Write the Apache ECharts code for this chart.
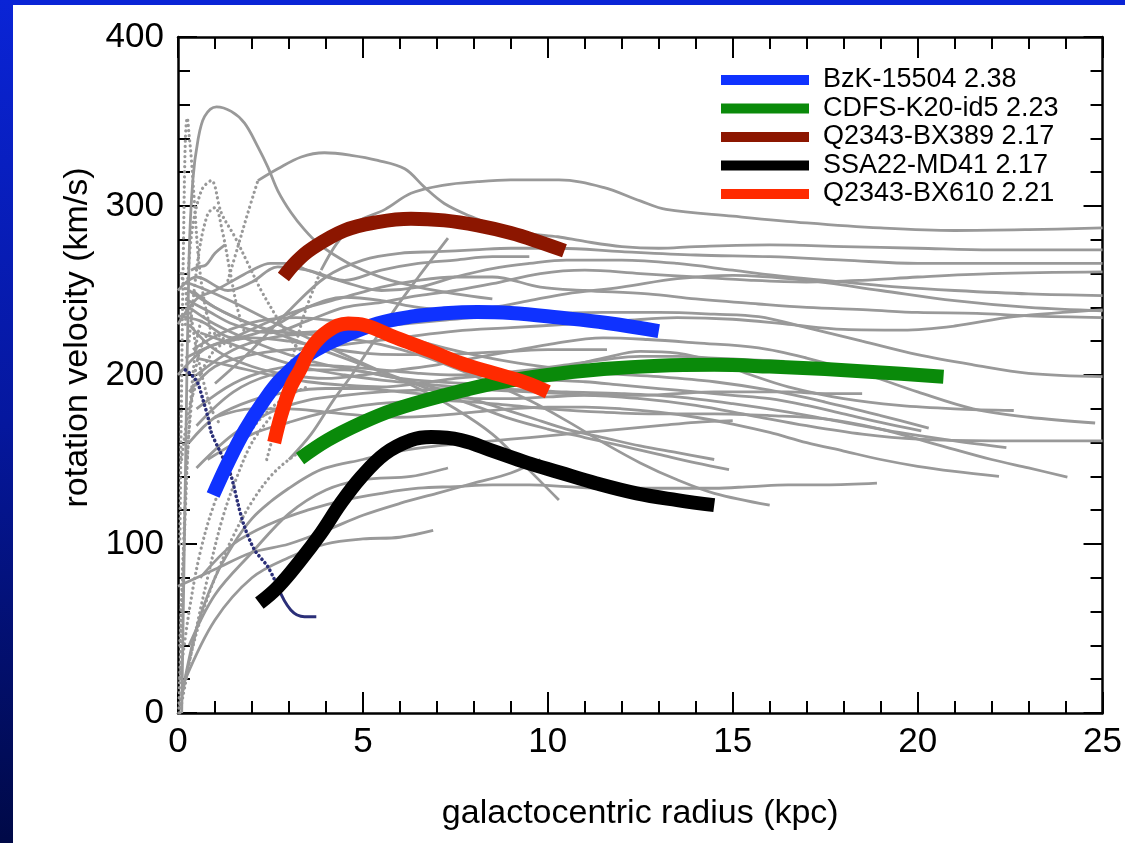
<!DOCTYPE html>
<html>
<head>
<meta charset="utf-8">
<title>Rotation curves</title>
<script src="https://cdn.jsdelivr.net/npm/echarts@6/dist/echarts.min.js"></script>
<style>
  html, body { margin: 0; padding: 0; background: #ffffff; }
  #chart { width: 1125px; height: 843px; }
</style>
</head>
<body>
<div id="chart"></div>
<script>
// Axis ranges and ticks
const xRange = [0, 25];
const xStep = 5;
const yRange = [0, 400];
const yStep = 100;

// High-redshift galaxies (radius kpc, velocity km/s)
const bzk15504 = [[0.95,129],[1.35,148],[1.8,167],[2.3,184],[2.8,198],[3.6,213],[4.5,223],[5.4,230.5],[6.3,234.5],[7.2,236.5],[8.1,237.3],[9,236.7],[10.3,234],[11.6,230.8],[13.0,226]];
const cdfsK20id5 = [[3.3,150.5],[4.05,161.5],[4.95,171.5],[5.85,179.5],[7.2,188],[8.55,195],[10,200],[11.5,203.5],[13,205.5],[14.5,206],[16,205],[17.5,203.5],[19,201.5],[20.7,199]];
const q2343bx389 = [[2.85,258],[3.2,267],[3.6,274.5],[4.5,285.5],[5.4,290.5],[6.3,292.5],[7.2,291.5],[8.1,288.5],[9.0,284],[9.8,278.5],[10.45,273.5]];
const ssa22md41 = [[2.2,65],[2.7,74.5],[3.3,90],[3.87,106.5],[4.4,124],[4.95,139.5],[5.6,153.5],[6.3,161.5],[6.85,163.3],[7.65,161.5],[8.55,154.8],[9.45,148],[10.3,142.5],[11.3,136],[12.4,130],[13.5,126],[14.5,123]];
const q2343bx610 = [[2.6,160],[2.8,177],[3.05,193],[3.3,203],[3.6,216],[4.05,226],[4.6,230.5],[5.05,229.5],[5.9,222],[6.8,214.5],[7.65,207],[8.55,201],[9.4,195.5],[10.0,190]];

// Compact dwarf curve (dotted inner part, solid outer part)
const dwarfInner = [[0.2,203],[0.32,201],[0.45,198],[0.54,195],[0.68,185],[0.81,175],[0.9,166],[1.13,155],[1.3,147],[1.44,140],[1.62,124],[1.8,110],[2.07,96.5],[2.43,86.5],[2.7,74.7]];
const dwarfOuter = [[2.7,74.7],[3.05,61],[3.42,57],[3.74,57]];

// Local disc galaxies, drawn as thin grey lines
const localSolid = [
  [[0.1,0],[0.2,140],[0.3,270],[0.4,315],[0.54,339],[0.72,353],[1.04,358.7],[1.44,356],[1.8,349],[2.16,335],[2.43,323],[2.7,309],[3.06,296],[3.42,286],[3.78,278],[4.23,271],[4.8,264],[5.6,257],[6.5,252],[7.5,248],[8.5,245]],
  [[2.16,315],[2.7,322],[3.33,329],[3.96,331.5],[4.68,330],[5.4,327],[6.13,322],[6.67,311],[7.2,301.5],[7.93,293.7],[8.65,287.7],[9.46,283.8],[10.27,281.8],[11,279],[12,276],[13,275],[14,276],[16,277],[18,276],[20,275],[22,274],[25,274]],
  [[3.87,262],[4.3,278],[4.8,290],[5.6,298],[6.3,307.5],[7.2,312.4],[8.1,314.4],[9,315.4],[10.3,315.4],[11.5,311],[12.5,303],[13.2,298],[15,294],[17,290],[19,287],[21,285.5],[23,286],[25,287]],
  [[0.35,262],[0.55,264],[0.75,265],[1.0,272],[1.27,277]],
  [[1.0,195],[2,215],[3,238],[4,258],[5,268],[6,272],[7,273],[8,274],[9,275],[10.3,275],[12,273],[14,271],[16,270],[18,268],[20,266],[22,266],[25,266]],
  [[3.0,150],[3.6,165],[4.2,185],[4.7,200],[5.3,220],[5.9,240],[6.5,258],[7.3,281]],
  [[0,250],[0.5,258],[1.35,250],[2,255],[2.7,264],[3.5,262],[4.5,255],[5.5,250],[6.5,252],[7.5,258],[8.5,263],[9.5,266],[10.5,268],[12,268],[13.5,266],[15,262],[16.5,258],[18,255],[19.5,252],[21,250],[23,248],[25,247]],
  [[0,235],[0.6,232],[1.5,222],[2.5,228],[3.5,240],[4.5,246],[5.5,244],[6.5,240],[7.5,238],[8.5,240],[9.5,244],[10.5,248],[12,252],[13.5,257],[15,259],[17,256],[19,250],[21,244],[23,240],[25,238]],
  [[0.2,245],[0.8,238],[1.5,230],[2.5,225],[3.5,232],[4.5,240],[5.5,243],[6.5,247],[7.5,250],[8.5,254],[9.8,260],[11,262],[12.5,260],[14,258],[15.5,256],[17,255],[18.5,256],[20,258],[22,260],[25,261]],
  [[0,200],[0.7,215],[1.5,222],[2.5,232],[3.5,240],[4.5,246],[5.5,252],[6.5,256],[7.5,258],[8.5,258],[9.8,252],[11,250],[12.7,248],[14,245],[15.7,242],[17,240],[18.65,238.5],[20,237],[21.6,236.5],[23,235],[25,234]],
  [[0.3,190],[1,205],[2,212],[3,215],[4.5,218],[6,222],[7.5,226],[9,228],[10.5,230],[12,232],[13.5,234],[15,233],[16.5,230],[18,227],[19.6,226.6],[21,229],[22.6,234.5],[25,238.5]],
  [[0.4,250],[1,240],[2,230],[3,225],[4,226],[5,228],[6,230],[7,232],[8,234],[9.5,236],[11.5,237],[13,237],[14.5,236],[15.7,234.5],[17,228],[18.5,220],[20,212],[21.5,206],[23,201],[25,199]],
  [[0.3,230],[1,215],[2,205],[3,200],[4,198],[5,200],[6,203],[7,206],[8,210],[9,214],[10,218],[11.5,222],[12.7,221],[14,219],[15.7,216],[17,210],[18.65,200],[20,190],[21.5,180],[23,175],[24.8,171.6]],
  [[0.3,160],[1,175],[2,185],[3,190],[4,192],[5,192],[6,190],[7,188],[8,186],[9,186],[10,187],[11,188],[12.5,186],[14,182],[15.5,176],[17,170],[18.5,165],[20,162],[22,161],[25,161]],
  [[0.5,210],[1.5,205],[2.5,200],[3.5,196],[4.5,194],[5.5,193],[6.5,195],[7.5,198],[8.5,200],[9.5,202],[10.5,205],[11.5,210],[12.5,214],[13.5,213],[14.5,208],[15.5,200],[16.5,193],[18,186],[19.5,182],[21,180],[22.6,179]],
  [[0.6,225],[1.5,218],[2.5,210],[3.5,204],[4.5,200],[5.5,197],[6.5,195],[7.5,193],[8.5,192],[9.5,191],[10.5,190],[12,189],[13.5,187],[15,183],[16.5,178],[18,172],[19.5,166],[21,161],[22.4,157]],
  [[1,175],[2,180],[3,180],[4,178],[5,176],[6,175],[7,176],[8,178],[9,180],[10,181],[11,181],[12,180],[13,178],[14,175],[15,171],[16,166],[17,160],[18,155],[19,150],[20,146],[21,143],[22.2,140]],
  [[0.8,150],[2,165],[3,172],[4,178],[5,182],[6,184],[7,185],[8,184],[9,182],[10,180],[11.5,178],[13,177],[14.5,177],[16,176],[17.5,174],[19,168],[20.5,159],[22,150],[23,145],[24.05,139.6]],
  [[0.4,215],[1.2,225],[2.2,232],[3.2,234],[4.2,232],[5.2,228],[6.2,222],[7.2,216],[8.2,211],[9.2,207],[10.2,204],[11.5,201],[13,199],[14.5,196],[16,191],[17.5,184],[19,176],[20.3,168.6]],
  [[0.3,240],[1,230],[2,220],[3,212],[4,206],[5,202],[6,198],[7,196],[8,195],[9,196],[10,197],[11,196],[12,194],[13,192],[14,190],[15,188],[16,186],[17,182],[18,177],[19,172],[20.1,167]],
  [[0.5,145],[1.5,165],[2.5,178],[3.5,185],[4.5,188],[5.5,190],[6.5,191],[7.5,192],[8.5,191],[9.5,190],[10.5,189],[11.5,188],[12.5,188],[13.5,189],[14.5,190],[15.5,190],[16.5,190],[17.5,189],[18.5,189]],
  [[0.6,80],[1.5,100],[2.5,112],[3.5,120],[4.5,126],[5.5,130],[6.5,133],[7.5,134],[8.5,135],[9.5,135],[10.5,134],[11.5,133],[12.5,133],[13.5,133],[14.5,133],[15.5,134],[16.5,135],[17.5,135],[18.9,136]],
  [[0.3,250],[1,240],[2,230],[3,222],[4,214],[5,206],[6,198],[7,190],[8,182],[9,174],[10,168],[11,163],[12,158],[13,153],[14,148],[14.9,144]],
  [[0.5,200],[1.5,215],[2.5,222],[3.5,224],[4.5,222],[5.5,218],[6.5,212],[7.5,204],[8.5,195],[9.5,185],[10.5,173],[11.5,160],[12.5,148],[13.5,138],[14.5,130],[16,123]],
  [[0.2,255],[0.8,250],[1.5,243],[2.5,232],[3.5,222],[4.5,212],[5.5,202],[6.5,192],[7.5,180],[8.5,165],[9.3,148],[10.3,126]],
  [[0.3,40],[1,70],[2,95],[3,118],[4,132],[5,138],[6.3,140],[7.3,145]],
  [[0.2,20],[1,55],[2,80],[3,92],[4,100],[5,103],[6,104],[6.9,108]],
  [[0,75],[1,85],[2,95],[3,100],[4,108],[5,117],[6,124],[7,130],[8,136],[9,142],[9.8,150]],
  [[0.5,170],[1.5,190],[2.5,200],[3.5,203],[4.5,203],[5.5,200],[6.5,195],[7.5,189],[8.5,182],[9.5,175],[10.5,168],[11.5,163],[12.5,158],[13.5,154],[14.5,150]],
  [[0.2,210],[1,218],[2,222],[3,220],[4,216],[5,213],[6,212],[7,212],[8,213],[9,214],[10,215],[11.6,215]],
  [[0.5,180],[1.5,195],[2.5,203],[3.5,206],[4.5,205],[5.5,203],[6.5,201],[7.5,200],[8.5,201],[9.5,203],[10.5,206],[11.5,209],[12.5,211],[13.5,211],[14.5,210],[15.5,209],[16.4,208]],
  [[0.1,10],[0.5,50],[1,80],[1.5,100],[2,115],[2.5,125],[3,133],[3.5,140],[4,145],[5,150],[6,155],[7,158],[8,160],[9,162],[10,164],[11,166],[12,168],[13,170],[14,172],[15,173]],
  [[0,230],[0.5,245],[1,250],[1.5,256],[2,262],[2.5,266],[3,266],[3.5,262],[4.5,256],[5.5,262],[6.5,266],[7.5,268],[8.5,270],[9.5,270]]
];

// Sparsely sampled inner parts, drawn dotted
const localDotted = [
  [[1.35,256],[1.62,276],[1.89,296],[2.16,315]],
  [[2.4,150],[2.7,175],[2.97,199],[3.4,235],[3.87,262]],
  [[0.2,230],[0.36,282],[0.63,309],[0.9,315],[1.17,296],[1.53,282],[1.89,266],[2.25,250],[2.7,233],[3.0,222],[3.3,215]],
  [[0.3,220],[0.55,270],[0.8,295],[1.0,299],[1.2,285],[1.4,262],[1.6,240],[1.8,225]],
  [[0.05,5],[0.3,30],[0.6,55],[1,80],[1.5,105],[2,125],[2.5,140],[3,150],[3.5,157],[4,162]],
  [[0.05,20],[0.3,60],[0.6,95],[1,125],[1.5,150],[2,168],[2.5,180],[3,188],[3.5,193]],
  [[0.05,100],[0.1,200],[0.15,280],[0.2,340],[0.25,352],[0.3,342],[0.36,328],[0.45,300],[0.55,270],[0.7,245],[0.9,225]],
  [[0.05,40],[0.15,100],[0.25,150],[0.4,190],[0.6,215],[0.9,225],[1.2,222],[1.5,215]],
  [[0.02,0],[0.1,60],[0.2,120],[0.3,170],[0.45,210],[0.6,230],[0.8,238]],
  [[0.05,0],[0.4,40],[0.8,80],[1.2,115],[1.6,140],[2,160],[2.5,175]],
  [[0.1,150],[0.3,180],[0.6,200],[1.0,215],[1.4,220],[1.8,222]],
  [[0.08,260],[0.2,250],[0.35,235],[0.5,215],[0.7,195],[0.9,180],[1.1,172]]
];

const highZ = [
  { name: 'BzK-15504 2.38',    data: bzk15504,   color: '#0f32ff' },
  { name: 'CDFS-K20-id5 2.23', data: cdfsK20id5, color: '#0a8a0a' },
  { name: 'Q2343-BX389 2.17',  data: q2343bx389, color: '#8c1600' },
  { name: 'SSA22-MD41 2.17',   data: ssa22md41,  color: '#000000' },
  { name: 'Q2343-BX610 2.21',  data: q2343bx610, color: '#ff2a00' }
];

const GREY = '#999999';
const series = [];

localSolid.forEach(function (pts) {
  series.push({
    type: 'line', data: pts, smooth: 0.35, showSymbol: false, silent: true,
    lineStyle: { color: GREY, width: 2.8 }, z: 2
  });
});
localDotted.forEach(function (pts) {
  series.push({
    type: 'line', data: pts, smooth: 0.35, showSymbol: false, silent: true,
    lineStyle: { color: GREY, width: 3.2, type: [0.1, 5], cap: 'round' }, z: 2
  });
});

series.push({
  type: 'line', data: dwarfInner, smooth: 0.3, showSymbol: false, silent: true,
  lineStyle: { color: '#2b2f78', width: 3.6, type: [0.1, 4.5], cap: 'round' }, z: 3
});
series.push({
  type: 'line', data: dwarfOuter, smooth: 0.4, showSymbol: false, silent: true,
  lineStyle: { color: '#2b2f78', width: 3 }, z: 3
});

// Order so that the overlaps stack like the figure
const drawOrder = [3, 1, 2, 0, 4];
drawOrder.forEach(function (i, k) {
  const s = highZ[i];
  series.push({
    name: s.name, type: 'line', data: s.data, smooth: 0.4, showSymbol: false,
    color: s.color,
    lineStyle: { color: s.color, width: 14, cap: 'butt', join: 'round' },
    itemStyle: { color: s.color },
    z: 5 + k
  });
});

const chart = echarts.init(document.getElementById('chart'), null, { renderer: 'canvas' });

const FONT = '"Liberation Sans", Arial, Helvetica, sans-serif';
const axisLine = { show: true, onZero: false, lineStyle: { color: '#000', width: 2.5 } };

chart.setOption({
  backgroundColor: '#ffffff',
  animation: false,
  textStyle: { fontFamily: FONT },
  graphic: [
    { type: 'rect', left: 0, top: 0, shape: { width: 1125, height: 5 }, style: { fill: '#0a24d6' }, z: 100 },
    { type: 'rect', left: 0, top: 0, shape: { width: 13, height: 843 }, z: 100,
      style: { fill: new echarts.graphic.LinearGradient(0, 0, 0, 1, [
        { offset: 0, color: '#0a24d6' },
        { offset: 0.5, color: '#05179e' },
        { offset: 1, color: '#000947' }
      ]) } }
  ],
  grid: { left: 178, right: 22, top: 37, bottom: 130, containLabel: false },
  legend: {
    data: highZ.map(function (s) { return { name: s.name, icon: 'rect' }; }),
    orient: 'vertical',
    left: 716, top: 61,
    itemWidth: 88, itemHeight: 10, itemGap: 0.5,
    selectedMode: false,
    textStyle: { fontFamily: FONT, fontSize: 27, color: '#000', lineHeight: 28, padding: [0, 0, 0, 9] }
  },
  xAxis: [
    {
      type: 'value', position: 'bottom', min: xRange[0], max: xRange[1], interval: xStep,
      name: 'galactocentric radius (kpc)', nameLocation: 'middle', nameGap: 84,
      nameTextStyle: { fontFamily: FONT, fontSize: 34, color: '#000' },
      axisLine: axisLine,
      axisTick: { show: true, inside: true, length: 21, lineStyle: { color: '#000', width: 2 } },
      minorTick: { show: true, splitNumber: 5, length: 12, lineStyle: { color: '#000', width: 2 } },
      axisLabel: { fontFamily: FONT, fontSize: 35, color: '#000', margin: 12 },
      splitLine: { show: false }, minorSplitLine: { show: false }
    },
    {
      type: 'value', position: 'top', min: xRange[0], max: xRange[1], interval: xStep,
      axisLine: axisLine,
      axisTick: { show: true, inside: true, length: 21, lineStyle: { color: '#000', width: 2 } },
      minorTick: { show: true, splitNumber: 5, length: 12, lineStyle: { color: '#000', width: 2 } },
      axisLabel: { show: false }, splitLine: { show: false }
    }
  ],
  yAxis: [
    {
      type: 'value', position: 'left', min: yRange[0], max: yRange[1], interval: yStep,
      name: 'rotation velocity (km/s)', nameLocation: 'middle', nameGap: 74, nameRotate: 90,
      nameTextStyle: { fontFamily: FONT, fontSize: 34, color: '#000', padding: [0, 0, 0, 75] },
      axisLine: axisLine,
      axisTick: { show: true, inside: true, length: 19, lineStyle: { color: '#000', width: 2 } },
      minorTick: { show: true, splitNumber: 5, length: 12, lineStyle: { color: '#000', width: 2 } },
      axisLabel: { fontFamily: FONT, fontSize: 35, color: '#000', margin: 14 },
      splitLine: { show: false }, minorSplitLine: { show: false }
    },
    {
      type: 'value', position: 'right', min: yRange[0], max: yRange[1], interval: yStep,
      axisLine: axisLine,
      axisTick: { show: true, inside: true, length: 19, lineStyle: { color: '#000', width: 2 } },
      minorTick: { show: true, splitNumber: 5, length: 12, lineStyle: { color: '#000', width: 2 } },
      axisLabel: { show: false }, splitLine: { show: false }
    }
  ],
  series: series
});
</script>
</body>
</html>
